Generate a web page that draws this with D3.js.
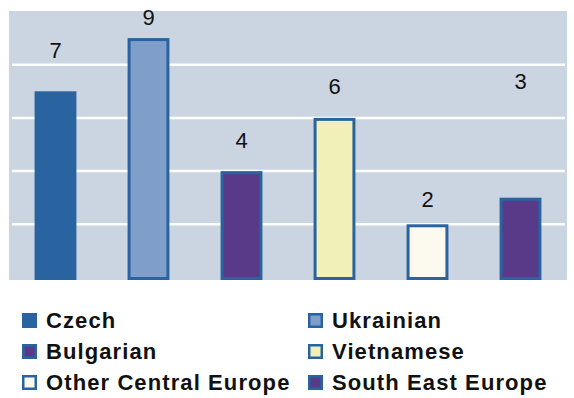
<!DOCTYPE html>
<html>
<head>
<meta charset="utf-8">
<script src="https://cdn.jsdelivr.net/npm/d3@7"></script>
<style>
  body { margin: 0; background: #fff; }
  text { font-family: "Liberation Sans", Arial, sans-serif; }
</style>
</head>
<body>
<svg id="chart" width="574" height="398"></svg>
<script>
// chart data
const groups = ["Czech", "Ukrainian", "Bulgarian", "Vietnamese", "Other Central Europe", "South East Europe"];
const counts = [7, 9, 4, 6, 2, 3];
// where each value label sits, in value units (as placed in the original)
const labelAt = [8.25, 9.5, 4.85, 6.9, 2.65, 7.1];
const fills = ["#2a64a0", "#7f9fca", "#583a88", "#f0f0b8", "#fcf9ee", "#583a88"];
const gridValues = [2, 4, 6, 8];

const svg = d3.select("#chart");
const plot = { left: 9, right: 567, top: 11, bottom: 280 };

const x = d3.scaleBand()
    .domain(groups)
    .range([plot.left, plot.right])
    .paddingInner(0.55)
    .paddingOuter(0.275);

const y = d3.scaleLinear()
    .domain([0, 10])
    .range([277.5, 11.5]);

// background
svg.append("rect")
    .attr("x", plot.left)
    .attr("y", plot.top)
    .attr("width", plot.right - plot.left)
    .attr("height", plot.bottom - plot.top)
    .attr("fill", "#cbd5e2");

// gridlines
svg.selectAll(".grid")
    .data(gridValues)
    .enter().append("line")
    .attr("class", "grid")
    .attr("x1", plot.left + 3)
    .attr("x2", plot.right - 2)
    .attr("y1", d => y(d))
    .attr("y2", d => y(d))
    .attr("stroke", "#fff")
    .attr("stroke-width", 2.5);

// bars
const data = groups.map((g, i) => ({ group: g, value: counts[i], fill: fills[i], label: labelAt[i] }));

svg.selectAll(".bar")
    .data(data)
    .enter().append("rect")
    .attr("class", "bar")
    .attr("x", d => x(d.group) + 1.5)
    .attr("y", d => y(d.value) + 1.5)
    .attr("width", x.bandwidth() - 3)
    .attr("height", d => plot.bottom - 1.5 - (y(d.value) + 1.5))
    .attr("fill", d => d.fill)
    .attr("stroke", "#2a64a0")
    .attr("stroke-width", 3);

// value labels
svg.selectAll(".val")
    .data(data)
    .enter().append("text")
    .attr("class", "val")
    .attr("x", d => x(d.group) + x.bandwidth() / 2)
    .attr("y", d => y(d.label))
    .attr("text-anchor", "middle")
    .attr("font-size", 22)
    .attr("fill", "#111")
    .text(d => d.value);

// legend
const legend = svg.selectAll(".leg")
    .data(data)
    .enter().append("g")
    .attr("class", "leg")
    .attr("transform", (d, i) => "translate(" + (i % 2 ? 308 : 22) + "," + (313 + Math.floor(i / 2) * 31) + ")");

legend.append("rect")
    .attr("x", 1.25)
    .attr("y", 1.25)
    .attr("width", 12.5)
    .attr("height", 12.5)
    .attr("fill", d => d.fill)
    .attr("stroke", "#2a64a0")
    .attr("stroke-width", 2.5);

legend.append("text")
    .attr("x", 24)
    .attr("y", 14.5)
    .attr("font-size", 22)
    .attr("font-weight", "bold")
    .attr("letter-spacing", 1.1)
    .attr("fill", "#111")
    .text(d => d.group);
</script>
</body>
</html>
